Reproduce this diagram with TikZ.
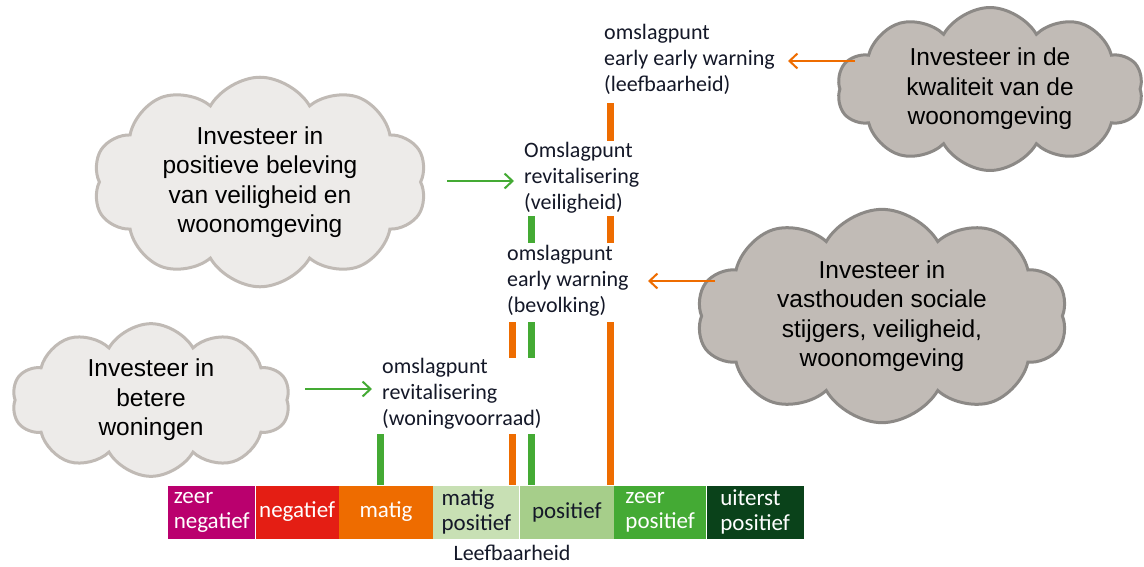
\documentclass[tikz,border=0pt]{standalone}
\usepackage{fontspec}
\setmainfont{Carlito}
\newfontfamily\wolkfont{Liberation Sans}
\usetikzlibrary{shapes.symbols,positioning,arrows.meta}
\definecolor{zeerneg}{RGB}{186,0,110}
\definecolor{neg}{RGB}{228,30,20}
\definecolor{matig}{RGB}{238,108,0}
\definecolor{matigpos}{RGB}{200,224,180}
\definecolor{pos}{RGB}{166,206,138}
\definecolor{zeerpos}{RGB}{68,170,52}
\definecolor{uiterstpos}{RGB}{10,66,26}
\definecolor{tekst}{RGB}{20,24,40}
\definecolor{wolklicht}{RGB}{237,235,233}
\definecolor{wolkrand}{RGB}{192,186,181}
\definecolor{wolkdonker}{RGB}{193,187,182}
\definecolor{wolkranddonker}{RGB}{140,137,134}
\tikzset{
 wolk/.style={cloud, cloud puffs=10, cloud puff arc=120, cloud ignores aspect,
   draw=wolkrand, fill=wolklicht, line width=3pt, align=center, text=black,
   font=\wolkfont\fontsize{24.5}{29.5}\selectfont},
 donkerwolk/.style={wolk, draw=wolkranddonker, fill=wolkdonker},
 punt/.style={anchor=west, align=left, inner sep=0pt, text=tekst,
   font=\fontsize{22}{26}\selectfont},
 vak/.style={minimum height=53pt, inner sep=0pt, align=left, text=white,
   font=\fontsize{23}{25}\selectfont},
 gbalk/.style={draw=zeerpos, line width=7pt},
 obalk/.style={draw=matig, line width=7pt},
 gpijl/.style={draw=zeerpos, line width=2pt, -{Straight Barb[length=8pt,width=15pt]}},
 opijl/.style={draw=matig, line width=2pt, -{Straight Barb[length=8pt,width=15pt]}},
}

\begin{document}
\begin{tikzpicture}[x=1pt,y=-1pt]
    \fill[white] (0,0) rectangle (1144,566);
    \useasboundingbox (0,0) rectangle (1144,566);

    % schaal leefbaarheid
    \node[vak, fill=zeerneg, minimum width=87pt, anchor=west] (zeerneg) at (168,512) {zeer\\negatief};
    \node[vak, fill=neg, minimum width=83pt, right=0pt of zeerneg] (neg) {negatief};
    \node[vak, fill=matig, minimum width=94pt, right=0pt of neg] (matig) {matig};
    \node[vak, fill=matigpos, text=tekst, minimum width=86pt, right=0pt of matig] (matigpos) {matig\\positief};
    \node[vak, fill=pos, text=tekst, minimum width=94pt, right=0pt of matigpos] (pos) {positief};
    \node[vak, fill=zeerpos, minimum width=92pt, right=0pt of pos] (zeerpos) {zeer\\positief};
    \node[vak, fill=uiterstpos, minimum width=97pt, right=0pt of zeerpos] (uiterstpos) {uiterst\\positief};
    \node[text=tekst, inner sep=0pt, font=\fontsize{22}{26}\selectfont] (leefb) at (512,553) {Leefbaarheid};

    % omslagpunten
    \node[punt] (leef) at (604,59) {omslagpunt\\early early warning\\(leefbaarheid)};
    \node[punt] (veil) at (524,178) {Omslagpunt\\revitalisering\\(veiligheid)};
    \node[punt] (bev) at (507,281) {omslagpunt\\early warning\\(bevolking)};
    \node[punt] (won) at (382,394) {omslagpunt\\revitalisering\\(woningvoorraad)};

    % wolken
    \node[wolk, minimum width=334pt, minimum height=180pt] (wolkveil) at (260,182)
        {Investeer in\\positieve beleving\\van veiligheid en\\woonomgeving};
    \node[wolk, minimum width=278pt, minimum height=134pt] (wolkwon) at (151,400)
        {Investeer in\\betere\\woningen};
    \node[donkerwolk, minimum width=306pt, minimum height=156pt] (wolkleef) at (990,89)
        {Investeer in de\\kwaliteit van de\\woonomgeving};
    \node[donkerwolk, minimum width=371pt, minimum height=178pt] (wolkbev) at (882,316)
        {Investeer in\\vasthouden sociale\\stijgers, veiligheid,\\woonomgeving};

    % pijlen
    \coordinate (p1) at (447,181);
    \coordinate (p2) at (305,389);
    \coordinate (p3) at (855,61);
    \coordinate (p4) at (715,281);
    \draw[gpijl, shorten >=10pt] (p1) -- (p1 -| veil.west);
    \draw[gpijl, shorten >=10pt] (p2) -- (p2 -| won.west);
    \draw[opijl] (p3) -- (788,61);
    \draw[opijl] (p4) -- (648,281);

    % balkjes
    \coordinate (o1) at (610,103);
    \coordinate (o2) at (610,216);
    \coordinate (o3) at (610,322);
    \coordinate (o4) at (512,322);
    \coordinate (o5) at (512,434);
    \coordinate (g1) at (531,216);
    \coordinate (g2) at (531,322);
    \coordinate (g3) at (531,434);
    \coordinate (g4) at (380,434);
    \draw[obalk] (o1) -- ++(0,38);
    \draw[obalk] (o2) -- ++(0,27);
    \draw[obalk] (o3) -- (o3 |- pos.north);
    \draw[obalk] (o4) -- ++(0,36);
    \draw[obalk] (o5) -- (o5 |- matigpos.north);
    \draw[gbalk] (g1) -- ++(0,27);
    \draw[gbalk] (g2) -- ++(0,36);
    \draw[gbalk] (g3) -- (g3 |- pos.north);
    \draw[gbalk] (g4) -- (g4 |- matig.north);
\end{tikzpicture}
\end{document}
